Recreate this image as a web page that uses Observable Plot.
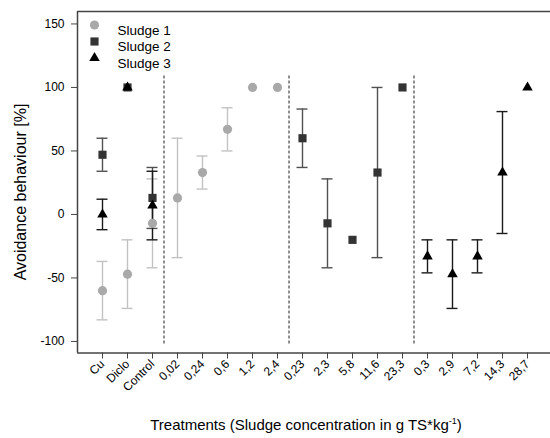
<!DOCTYPE html>
<html>
<head>
<meta charset="utf-8">
<script src="https://cdn.jsdelivr.net/npm/d3@7"></script>
<script src="https://cdn.jsdelivr.net/npm/@observablehq/plot@0.6"></script>
<style>
  html, body { margin: 0; padding: 0; background: #fff; }
  #wrap { position: relative; width: 550px; height: 438px; font-family: "Liberation Sans", Arial, sans-serif; color: #000; }
  #xtitle { position: absolute; left: 0; width: 612px; top: 416px; text-align: center; font-size: 15px; }
  #ytitle { position: absolute; left: 21px; top: 192px; transform: translate(-50%, -50%) rotate(-90deg); white-space: nowrap; font-size: 16px; }
  sup { font-size: 9px; }
</style>
</head>
<body>
<div id="wrap">
  <div id="chart"></div>
  <div id="ytitle">Avoidance behaviour [%]</div>
  <div id="xtitle">Treatments (Sludge concentration in g TS*kg<sup>-1</sup>)</div>
</div>
<script>
// ---- data ----
const categories = ["Cu","Diclo","Control","0,02","0,24","0,6","1,2","2,4","0,23","2,3","5,8","11,6","23,3","0,3","2,9","7,2","14,3","28,7"];
const separatorsAfter = ["Control","2,4","23,3"];
const yTicks = [-100, -50, 0, 50, 100, 150];
const seriesNames = ["Sludge 1","Sludge 2","Sludge 3"];

const sludge1Cats = ["Cu","Diclo","Control","0,02","0,24","0,6","1,2","2,4"];
const sludge1Mean = [-60, -47, -7, 13, 33, 67, 100, 100];
const sludge1Err  = [23, 27, 35, 47, 13, 17, 0, 0];

const sludge2Cats = ["Cu","Diclo","Control","0,23","2,3","5,8","11,6","23,3"];
const sludge2Mean = [47, 100, 13, 60, -7, -20, 33, 100];
const sludge2Err  = [13, 0, 24, 23, 35, 0, 67, 0];

const sludge3Cats = ["Cu","Diclo","Control","0,3","2,9","7,2","14,3","28,7"];
const sludge3Mean = [0, 100, 7, -33, -47, -33, 33, 100];
const sludge3Err  = [12, 0, 27, 13, 27, 13, 48, 0];

// ---- styling ----
const styles = {
  "Sludge 1": {symbol: "circle",   fill: "#a9a9a9", bar: "#c2c2c2", r: 4.6},
  "Sludge 2": {symbol: "square",   fill: "#333333", bar: "#505050", r: 4.6},
  "Sludge 3": {symbol: "triangle", fill: "#000000", bar: "#1a1a1a", r: 3.9}
};

function rows(name, cats, mean, err) {
  return cats.map((c, k) => ({series: name, i: categories.indexOf(c), v: mean[k], e: err[k]}));
}
const all = [
  ...rows("Sludge 1", sludge1Cats, sludge1Mean, sludge1Err),
  ...rows("Sludge 2", sludge2Cats, sludge2Mean, sludge2Err),
  ...rows("Sludge 3", sludge3Cats, sludge3Mean, sludge3Err)
];
const withErr = all.filter(d => d.e > 0);
const sepX = separatorsAfter.map(c => categories.indexOf(c) + 0.46);

const capHalf = 0.22;
const yDomain = [-109.1, 159.8];
const xDomain = [-1, 17.92];

const marks = [];
// separators
marks.push(Plot.ruleX(sepX, {x: d => d, y1: -102, y2: 110, stroke: "#555", strokeWidth: 1.3, strokeDasharray: "3,2"}));
// error bars
for (const s of seriesNames) {
  const st = styles[s];
  const d = withErr.filter(r => r.series === s);
  marks.push(Plot.ruleX(d, {x: "i", y1: r => r.v - r.e, y2: r => r.v + r.e, stroke: st.bar, strokeWidth: 1.4}));
  marks.push(Plot.ruleY(d, {y: r => r.v + r.e, x1: r => r.i - capHalf, x2: r => r.i + capHalf, stroke: st.bar, strokeWidth: 1.4}));
  marks.push(Plot.ruleY(d, {y: r => r.v - r.e, x1: r => r.i - capHalf, x2: r => r.i + capHalf, stroke: st.bar, strokeWidth: 1.4}));
}
// points
for (const s of seriesNames) {
  const st = styles[s];
  marks.push(Plot.dot(all.filter(r => r.series === s), {x: "i", y: "v", symbol: st.symbol, fill: st.fill, r: st.r}));
}
// legend
seriesNames.forEach((s, k) => {
  const st = styles[s];
  marks.push(Plot.dot([s], {frameAnchor: "top-left", dx: 17, dy: 13.5 + k * 16.5, symbol: st.symbol, fill: st.fill, r: st.r}));
  marks.push(Plot.text([s], {frameAnchor: "top-left", dx: 40, dy: 13.5 + k * 16.5, text: d => d, textAnchor: "start", fontSize: 13.5, fill: "#000"}));
});
// frame lines
marks.push(Plot.ruleX([xDomain[0]], {stroke: "#444", strokeWidth: 1.5}));
marks.push(Plot.ruleY([yDomain[0]], {stroke: "#444", strokeWidth: 1.5}));
marks.push(Plot.ruleY([yDomain[1]], {stroke: "#444", strokeWidth: 1.5}));
// axes
marks.push(Plot.axisY({ticks: yTicks, tickFormat: d => String(d), tickSize: 6, tickPadding: 7, label: null, fontSize: 12, stroke: "#444"}));
marks.push(Plot.axisX({ticks: d3.range(categories.length), tickFormat: i => categories[i], tickSize: 6, tickPadding: 3, tickRotate: -45, label: null, fontSize: 12, stroke: "#444"}));

const chart = Plot.plot({
  width: 550,
  height: 400,
  marginLeft: 77,
  marginRight: 0,
  marginTop: 11,
  marginBottom: 47.5,
  x: {type: "linear", domain: xDomain},
  y: {type: "linear", domain: yDomain},
  style: {fontFamily: "'Liberation Sans', Arial, sans-serif", fontSize: "12px", color: "#000", background: "#fff"},
  marks
});
document.getElementById("chart").appendChild(chart);
</script>
</body>
</html>
